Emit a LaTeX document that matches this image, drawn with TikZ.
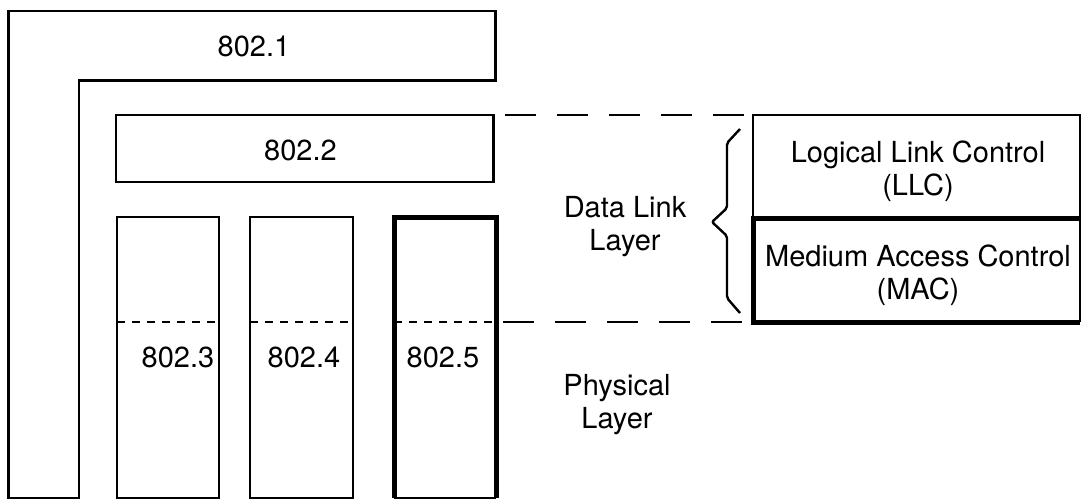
\documentclass[tikz,border=0pt]{standalone}
\usepackage{fontspec}
\setmainfont{TeX Gyre Heros}
\usetikzlibrary{calc}
\begin{document}
\begin{tikzpicture}[x=1pt,y=-1pt,
  thin line/.style={line width=2.4pt},
  thick line/.style={line width=5pt, line join=miter},
  box/.style={rectangle, draw, line width=2.4pt, inner sep=0pt, outer sep=0pt},
  plainbox/.style={rectangle, inner sep=0pt, outer sep=0pt},
  lbl/.style={inner sep=0pt, font=\fontsize{29}{33}\selectfont, align=center},
  longdash/.style={line width=2.4pt, dash pattern=on 31pt off 21pt},
  shortdash/.style={line width=2.6pt, dash pattern=on 8pt off 7pt}]
\useasboundingbox (0,0) rectangle (1082,499);
\fill[white] (0,0) rectangle (1082,499);

% 802.1 L-shape
\draw[thin line] (8.5,498) -- (8.5,11) -- (495.5,11) -- (495.5,80.5) -- (79,80.5) -- (79,498) -- cycle;
\node[lbl] (t1) at (254,46) {802.1};

% 802.2
\node[box, minimum width=377.6pt, minimum height=67pt] (b2) at (304.5,148.5) {};
\node[lbl] (t2) at (300.5,150) {802.2};

% columns
\node[box, minimum width=102pt, minimum height=281pt] (b3) at (168,357.5) {};
\node[box, minimum width=103pt, minimum height=281pt] (b4) at (301.5,357.5) {};
\node[plainbox, minimum width=102pt, minimum height=281pt] (b5) at (445,357.5) {};
\draw[thin line] (b5.south west) -- (b5.south east);
\draw[thick line] (b5.south west) -- (b5.north west) -- (b5.north east) -- (b5.south east);
\node[lbl] (t3) at (178,357.5) {802.3};
\node[lbl] (t4) at (304,357.5) {802.4};
\node[lbl] (t5) at (443,357.5) {802.5};

% dotted boundary inside columns
\coordinate (dy) at (0,322);
\draw[shortdash] (b3.west |- dy) -- (b3.east |- dy);
\draw[shortdash] (b4.west |- dy) -- (b4.east |- dy);
\draw[shortdash] (b5.west |- dy) -- (b5.east |- dy);

% right boxes
\node[box, minimum width=327pt, minimum height=103pt] (llc) at (916.5,166.5) {};
\node[plainbox, minimum width=327pt, minimum height=104pt] (mac) at (916.5,270) {};
\draw[thin line] (mac.north east) -- (mac.south east);
\draw[thick line] (mac.north east) -- (mac.north west) -- (mac.south west) -- (mac.south east);
\node[lbl, anchor=north] (tllc) at (918,141) {Logical Link Control\\(LLC)};
\node[lbl, anchor=north] (tmac) at (918,244.5) {Medium Access Control\\(MAC)};

% dashed layer lines
\coordinate (da) at (505,115);
\coordinate (db) at (744,115);
\coordinate (dc) at (503,322);
\coordinate (dd) at (744,322);
\draw[longdash] (da) -- (db);
\draw[longdash] (dc) -- (dd);

% brace
\draw[thin line, rounded corners=2pt] (740,129) -- (727,143) -- (727,208) -- (712,222) -- (727,236) -- (727,298) -- (740,313);

% layer labels
\node[lbl, anchor=north] (dll) at (625,196) {Data Link\\Layer};
\node[lbl, anchor=north] (phy) at (617,374.5) {Physical\\Layer};
\end{tikzpicture}
\end{document}
